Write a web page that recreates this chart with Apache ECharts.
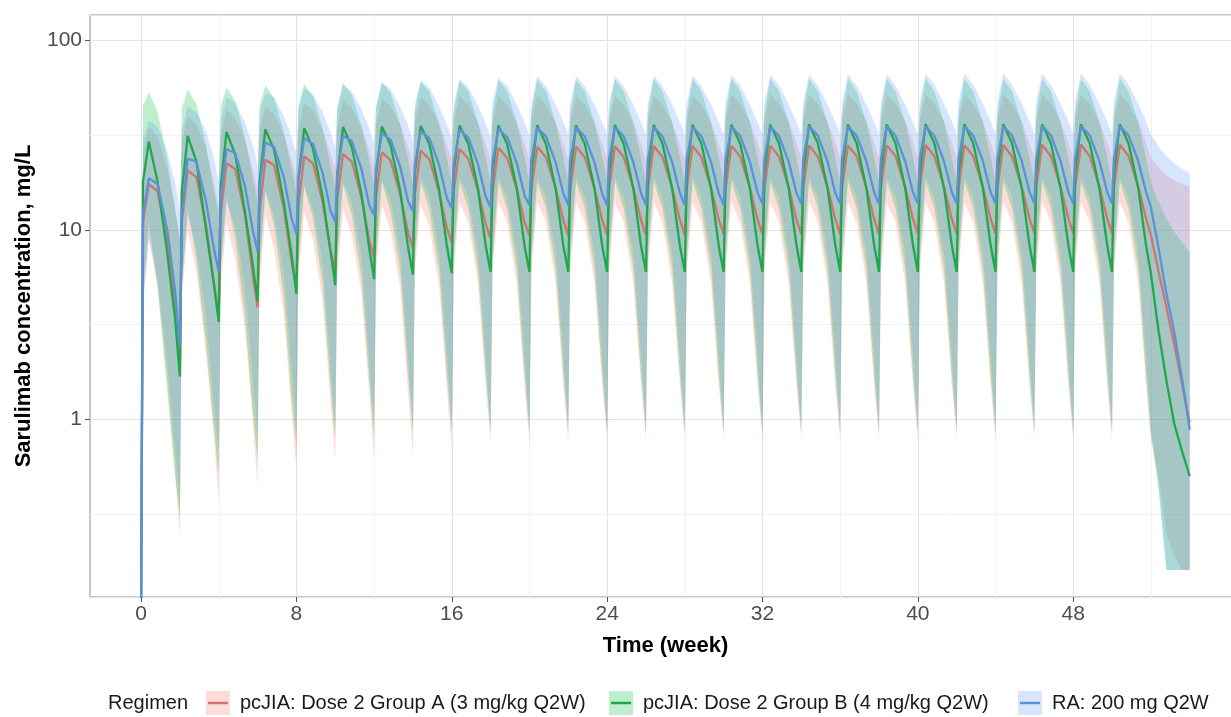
<!DOCTYPE html>
<html><head><meta charset="utf-8">
<script src="https://cdn.jsdelivr.net/npm/echarts@6/dist/echarts.min.js"></script>
<style>html,body{margin:0;padding:0;background:#fff}#chart{width:1231px;height:717px}</style>
</head><body><div id="chart"></div>
<script>
// ---------- DATA ----------
const seriesNames = ['pcJIA: Dose 2 Group A (3 mg/kg Q2W)', 'pcJIA: Dose 2 Group B (4 mg/kg Q2W)', 'RA: 200 mg Q2W'];
const legendTitle = 'Regimen';
const xMajorTicks = [0, 8, 16, 24, 32, 40, 48];
const xMinorTicks = [4, 12, 20, 28, 36, 44, 52];
const yMinorLog10 = [-0.5, 0.5, 1.5];

const weeks = [
0,0.1,0.4,0.85,1.35,1.75,
2,2.1,2.4,2.85,3.35,3.75,
4,4.1,4.4,4.85,5.35,5.75,
6,6.1,6.4,6.85,7.35,7.75,
8,8.1,8.4,8.85,9.35,9.75,
10,10.1,10.4,10.85,11.35,11.75,
12,12.1,12.4,12.85,13.35,13.75,
14,14.1,14.4,14.85,15.35,15.75,
16,16.1,16.4,16.85,17.35,17.75,
18,18.1,18.4,18.85,19.35,19.75,
20,20.1,20.4,20.85,21.35,21.75,
22,22.1,22.4,22.85,23.35,23.75,
24,24.1,24.4,24.85,25.35,25.75,
26,26.1,26.4,26.85,27.35,27.75,
28,28.1,28.4,28.85,29.35,29.75,
30,30.1,30.4,30.85,31.35,31.75,
32,32.1,32.4,32.85,33.35,33.75,
34,34.1,34.4,34.85,35.35,35.75,
36,36.1,36.4,36.85,37.35,37.75,
38,38.1,38.4,38.85,39.35,39.75,
40,40.1,40.4,40.85,41.35,41.75,
42,42.1,42.4,42.85,43.35,43.75,
44,44.1,44.4,44.85,45.35,45.75,
46,46.1,46.4,46.85,47.35,47.75,
48,48.1,48.4,48.85,49.35,49.75,
50,50.1,50.4,50.85,51.35,51.75,
52,52.4,52.8,53.2,53.6,54
];

const redMedian = [
0.1,11,17.5,16,8.5,3.8,
2,11,20.6,19,10.5,5.2,
3.5,12,22.5,21,12,5.8,
3.9,12.5,23.5,22,13,6.8,
5,13.5,24.5,22.5,14,7.8,
6.2,14.5,25.2,23,14.8,8.8,
7.2,15,25.8,23.3,15.3,9.6,
8,15.5,26.3,23.6,15.8,10.2,
8.6,16,26.8,23.8,16.2,10.7,
9,16,27.2,24,16.4,11,
9.3,16.5,27.5,24.2,16.6,11.2,
9.3,16.5,27.6,24.2,16.6,11.2,
9.4,16.5,27.7,24.3,16.7,11.2,
9.4,16.5,27.8,24.3,16.7,11.3,
9.4,16.6,27.8,24.3,16.7,11.3,
9.5,16.6,27.9,24.4,16.8,11.3,
9.5,16.6,27.9,24.4,16.8,11.3,
9.5,16.6,28,24.4,16.8,11.4,
9.5,16.7,28,24.5,16.8,11.4,
9.5,16.7,28,24.5,16.8,11.4,
9.6,16.7,28.1,24.5,16.9,11.4,
9.6,16.7,28.1,24.5,16.9,11.4,
9.6,16.7,28.1,24.5,16.9,11.5,
9.6,16.8,28.2,24.6,16.9,11.5,
9.6,16.8,28.2,24.6,16.9,11.5,
9.6,16.8,28.2,24.6,16.9,11.5,
9.4,6,3.9,2.5,1.55,0.96
];
const redLower = [
0.1,4,9.2,5,1.6,0.55,
0.23,4.5,10,6,2.2,0.8,
0.37,5,11,7,3,1,
0.44,5,12,8,3.6,1.1,
0.55,5.5,12.5,9,4.2,1.25,
0.6,5.5,13,9.5,4.6,1.35,
0.62,6,13.5,10,4.9,1.4,
0.65,6,13.5,10.5,5,1.45,
0.7,6,14,11,5.2,1.5,
0.75,6,14,11,5.2,1.5,
0.75,6,14,11,5.2,1.5,
0.75,6,14,11,5.2,1.5,
0.78,6,14,11,5.2,1.5,
0.78,6,14,11,5.2,1.5,
0.78,6,14,11,5.2,1.5,
0.78,6,14,11,5.2,1.5,
0.78,6,14,11,5.2,1.5,
0.78,6,14,11,5.2,1.5,
0.78,6,14,11,5.2,1.5,
0.78,6,14,11,5.2,1.5,
0.78,6,14,11,5.2,1.5,
0.78,6,14,11,5.2,1.5,
0.78,6,14,11,5.2,1.5,
0.78,6,14,11,5.2,1.5,
0.78,6,14,11,5.2,1.5,
0.78,6,14,11,5.2,1.5,
0.78,0.5,0.25,0.19,0.16,0.16
];
const redUpper = [
0.1,26,35,31,21,13,
9,29,40,36,27,18,
13,31,43,39,30,21,
16.5,33,45,41,32,23.5,
19,34,47,43,34,25.5,
21,35,48.5,44,35,26.5,
22,36,49.5,45,36,27.5,
23,37,50.5,45.5,36.5,28,
23.5,37.5,51,46,37,28.5,
23.5,37.5,51,46,37,28.5,
23.5,37.5,51,46,37,28.5,
23.5,37.5,51,46,37,28.5,
23.5,37.5,51,46,37,28.5,
23.5,37.5,51,46,37,28.5,
23.5,37.5,51,46,37,28.5,
24,38,52,46.5,37.5,29,
24,38,52,46.5,37.5,29,
24,38,52,46.5,37.5,29,
24,38,52,46.5,37.5,29,
24,38,52,46.5,37.5,29,
24,38,52,46.5,37.5,29,
24,38,52,46.5,37.5,29,
24,38,52,46.5,37.5,29,
24,38,52,46.5,37.5,29,
24,38,52,46.5,37.5,29,
24,38,52,46.5,37.5,29,
24,21.5,19.5,18.3,17.5,17
];

const greenMedian = [
0.1,18,29.3,18,7.5,3.4,
1.68,16,31.4,23,10,5.2,
3.27,17,33,25,12.5,6.6,
4.2,18,34,26.5,14,7.4,
4.6,18.5,34.5,27,15,7.8,
5.1,19,35,27.5,15.5,8,
5.5,19.5,35.2,28,16,8.1,
5.8,20,35.5,28.3,16.3,8.2,
5.9,20,35.6,28.5,16.5,8.2,
6,20,35.7,28.5,16.5,8.2,
6,20,35.8,28.5,16.5,8.2,
6,20,35.8,28.5,16.5,8.2,
6,20,35.9,28.6,16.5,8.2,
6,20,35.9,28.6,16.5,8.2,
6,20,36,28.6,16.6,8.2,
6,20,36,28.6,16.6,8.2,
6,20,36,28.7,16.6,8.3,
6,20,36.1,28.7,16.6,8.3,
6,20,36.1,28.7,16.6,8.3,
6,20,36.1,28.7,16.6,8.3,
6,20,36.2,28.7,16.6,8.3,
6,20,36.2,28.7,16.6,8.3,
6,20,36.2,28.7,16.6,8.3,
6,20,36.2,28.7,16.6,8.3,
6,20,36.2,28.7,16.6,8.3,
6,20,36.2,28.7,16.6,8.3,
5.9,2.9,1.6,0.95,0.68,0.5
];
const greenLower = [
0.1,5,11,5,1.4,0.5,
0.3,5,13,7,2.5,0.9,
0.5,6,15,9,3.5,1.1,
0.6,6,16,10.5,4.5,1.3,
0.72,6.5,17,11.5,5.2,1.5,
0.78,7,17.5,12,5.6,1.6,
0.82,7,18,12.5,6,1.7,
0.84,7,18,12.8,6.1,1.7,
0.85,7,18,13,6.2,1.7,
0.85,7,18,13,6.2,1.7,
0.85,7,18,13,6.2,1.7,
0.85,7,18,13,6.2,1.7,
0.85,7,18,13,6.2,1.7,
0.85,7,18,13,6.2,1.7,
0.85,7,18,13,6.2,1.7,
0.85,7,18,13,6.2,1.7,
0.85,7,18,13,6.2,1.7,
0.85,7,18,13,6.2,1.7,
0.85,7,18,13,6.2,1.7,
0.85,7,18,13,6.2,1.7,
0.85,7,18,13,6.2,1.7,
0.85,7,18,13,6.2,1.7,
0.85,7,18,13,6.2,1.7,
0.85,7,18,13,6.2,1.7,
0.85,7,18,13,6.2,1.7,
0.85,7,18,13,6.2,1.7,
0.85,0.42,0.16,0.16,0.16,0.16
];
const greenUpper = [
0.1,45,53.8,42,24,13,
9,44,55,46,28,16,
12,45,56.6,48,31,19,
14,45,58,50,33,21,
15.5,45,59,51,34.5,22,
16.5,44,60,52,35.5,23,
17,44,60.5,53,36,23.5,
17.5,43,61,53.5,36.5,24,
18,42,61.5,54,37,24,
18,42,62,54,37,24,
18,42,62,54,37,24,
18,42,62,54,37,24,
18,42,62.5,54,37,24,
18,42,62.5,54,37,24,
18,42,62.5,54,37,24,
18,42,63,54,37,24,
18,42,63,54,37,24,
18,42,63,54,37,24,
18,42,63,54,37,24,
18,42,63,54,37,24,
18,42,63,54,37,24,
18,42,63,54,37,24,
18,42,63,54,37,24,
18,42,63,54,37,24,
18,42,63,54,37,24,
18,42,63,54,37,24,
18,14,11.5,9.8,8.6,7.6
];

const blueMedian = [
0.1,12,18.8,17.5,10,4.8,
2.4,12,23.8,23,14,8,
6,15,26.8,25.5,17,10,
7.7,17,29,27.5,19,11.5,
9.5,18.5,30.5,28.5,20,12.7,
11,20,31.5,29.5,21,13.5,
12,21,32.5,30,21.5,14.2,
12.6,22,33.3,30.5,22,14.7,
13,22.5,33.8,30.8,22.2,15,
13.2,23,34.2,31,22.5,15.2,
13.5,23.5,34.8,31.2,22.7,15.5,
13.5,23.5,34.9,31.2,22.7,15.5,
13.5,23.5,35,31.3,22.8,15.6,
13.6,23.5,35,31.3,22.8,15.6,
13.6,23.6,35.1,31.4,22.9,15.6,
13.6,23.6,35.1,31.4,22.9,15.7,
13.7,23.6,35.2,31.4,22.9,15.7,
13.7,23.6,35.2,31.5,23,15.7,
13.7,23.7,35.2,31.5,23,15.8,
13.7,23.7,35.3,31.5,23,15.8,
13.8,23.7,35.3,31.5,23,15.8,
13.8,23.7,35.3,31.6,23.1,15.8,
13.8,23.8,35.3,31.6,23.1,15.9,
13.8,23.8,35.4,31.6,23.1,15.9,
13.8,23.8,35.4,31.6,23.1,15.9,
13.8,23.8,35.4,31.6,23.1,15.9,
13.2,8,4.6,2.9,1.65,0.88
];
const blueLower = [
0.1,4,9,5.5,2,0.7,
0.35,5.5,12,8,3.5,1.2,
0.7,6.5,14,10.5,5,1.7,
0.8,7,16,12,6,1.9,
0.85,7.5,17,13,6.7,2,
0.88,7.5,18,14,7.2,2.1,
0.9,8,18.5,14.5,7.5,2.2,
0.9,8,19,15,7.6,2.2,
0.9,8,19,15,7.6,2.2,
0.9,8,19,15,7.6,2.2,
0.9,8,19,15,7.6,2.2,
0.9,8,19,15,7.6,2.2,
0.9,8,19,15,7.6,2.2,
0.9,8,19,15,7.6,2.2,
0.9,8,19,15,7.6,2.2,
0.9,8,19,15,7.6,2.2,
0.9,8,19,15,7.6,2.2,
0.9,8,19,15,7.6,2.2,
0.9,8,19,15,7.6,2.2,
0.9,8,19,15,7.6,2.2,
0.9,8,19,15,7.6,2.2,
0.9,8,19,15,7.6,2.2,
0.9,8,19,15,7.6,2.2,
0.9,8,19,15,7.6,2.2,
0.9,8,19,15,7.6,2.2,
0.9,8,19,15,7.6,2.2,
0.9,0.45,0.16,0.16,0.16,0.16
];
const blueUpper = [
0.1,30,38,35,26,18,
13,34,45,42,33,24,
18,38,50,47,37,28,
22,41,53,50,40,31,
25,43,56,52,42,33,
27,44,58,54,43.5,34.5,
28.5,45,60,55.5,44.5,35.5,
29.5,46,61.5,56.5,45,36,
30.5,46.5,63,57,45.5,36.5,
31,47,64,57.5,46,37,
31.5,47,65,57.5,46,37,
32,47,65,57.5,46,37,
32,47,65,57.5,46,37,
32,47,65.5,57.5,46,37,
32,47,65.5,57.5,46,37,
32,47.5,66,58,46,37,
32,47.5,66,58,46,37,
32,47.5,66,58,46,37,
32,47.5,66.5,58,46,37,
32,47.5,66.5,58,46,37,
32,48,67,58.5,46.5,37.5,
32,48,67,58.5,46.5,37.5,
32,48,67,58.5,46.5,37.5,
32,48,67,58.5,46.5,37.5,
32,48,67,58.5,46.5,37.5,
32,48,67,58.5,46.5,37.5,
32,27.5,24.5,22.5,21,20
];

// ---------- CHART ----------
[redMedian, redLower, redUpper, greenMedian, greenLower, greenUpper, blueMedian, blueLower, blueUpper].forEach((a, i) => {
  if (a.length !== weeks.length) throw new Error('array ' + i + ' length ' + a.length + ' != ' + weeks.length);
});

const FONT = "'Liberation Sans', Arial, Helvetica, sans-serif";
const groups = [
  { name: seriesNames[0], med: redMedian,   lo: redLower,   up: redUpper,   fill: 'rgba(248,118,109,0.25)', line: '#cf756c' },
  { name: seriesNames[1], med: greenMedian, lo: greenLower, up: greenUpper, fill: 'rgba(0,186,56,0.25)',   line: '#21a74b' },
  { name: seriesNames[2], med: blueMedian,  lo: blueLower,  up: blueUpper,  fill: 'rgba(97,156,255,0.25)', line: '#5b91dc' }
];
const pairs = arr => weeks.map((w, i) => [w, arr[i]]);

const series = [];
// ribbons: one polygon per group, points placed through the axes (api.coord)
groups.forEach(g => {
  series.push({
    type: 'custom', name: g.name + ' interval', silent: true, z: 2,
    data: weeks.map((w, i) => [w, g.lo[i], g.up[i]]),
    encode: { x: 0, y: [1, 2] },
    renderItem: function (params, api) {
      if (params.dataIndex !== 0) return null;
      const top = [], bottom = [];
      for (let i = 0; i < weeks.length; i++) {
        top.push(api.coord([weeks[i], g.up[i]]));
        bottom.push(api.coord([weeks[i], g.lo[i]]));
      }
      const cs = params.coordSys;
      return {
        type: 'group',
        clipPath: { type: 'rect', shape: { x: cs.x, y: cs.y, width: cs.width, height: cs.height } },
        children: [{ type: 'polygon', shape: { points: top.concat(bottom.reverse()) }, style: { fill: g.fill } }]
      };
    }
  });
});
groups.forEach(g => {
  series.push({ type: 'line', name: g.name, data: pairs(g.med), symbol: 'none', silent: true,
    lineStyle: { color: g.line, width: 2.3 }, z: 3, emphasis: { disabled: true } });
});

// legend drawn as text + keys
const legendY = 703;
const keyX = [206, 609, 1018];
const textX = [240, 643, 1052];
const graphic = [{ type: 'text', x: 108, y: legendY, style: { text: legendTitle, font: '20px ' + FONT, fill: '#1a1a1a', verticalAlign: 'middle' } }];
groups.forEach((g, i) => {
  graphic.push({ type: 'rect', shape: { x: keyX[i], y: legendY - 12, width: 24, height: 24 }, style: { fill: g.fill } });
  graphic.push({ type: 'line', shape: { x1: keyX[i] + 2, y1: legendY, x2: keyX[i] + 22, y2: legendY }, style: { stroke: g.line, lineWidth: 2.5 } });
  graphic.push({ type: 'text', x: textX[i], y: legendY, style: { text: g.name, font: '20px ' + FONT, fill: '#1a1a1a', verticalAlign: 'middle' } });
});

const chart = echarts.init(document.getElementById('chart'), null, { renderer: 'canvas' });
chart.setOption({
  animation: false,
  backgroundColor: '#ffffff',
  grid: { left: 90, right: -10, top: 15, bottom: 120, show: true, borderColor: '#8c8c8c', borderWidth: 1,
          containLabel: false, outerBoundsMode: 'none' },
  xAxis: [
    { type: 'value', min: -2.63, max: 56.64, position: 'bottom',
      axisLine: { show: false, onZero: false },
      axisTick: { show: true, length: 5, lineStyle: { color: '#555', width: 1 }, customValues: xMajorTicks },
      axisLabel: { customValues: xMajorTicks, fontSize: 21, color: '#4d4d4d', fontFamily: FONT, margin: 7 },
      splitLine: { show: true, lineStyle: { color: '#e4e4e4', width: 1.2 } },
      name: 'Time (week)', nameLocation: 'middle', nameGap: 38,
      nameTextStyle: { fontSize: 22, fontWeight: 'bold', color: '#000', fontFamily: FONT } },
    { type: 'value', min: -2.63, max: 56.64, position: 'top',
      axisLine: { show: false, onZero: false },
      axisTick: { show: false, customValues: xMinorTicks },
      axisLabel: { show: false, customValues: xMinorTicks },
      splitLine: { show: true, lineStyle: { color: '#f1f1f1', width: 1 } } }
  ],
  yAxis: [
    { type: 'log', logBase: 10, min: 0.1151, max: 136.7,
      axisLine: { show: false, onZero: false },
      axisTick: { length: 5, lineStyle: { color: '#555', width: 1 } },
      axisLabel: { fontSize: 21, color: '#4d4d4d', fontFamily: FONT, margin: 8, showMinLabel: false, showMaxLabel: false },
      splitLine: { show: true, lineStyle: { color: '#e4e4e4', width: 1.2 } },
      name: 'Sarulimab concentration, mg/L', nameLocation: 'middle', nameGap: 55,
      nameTextStyle: { fontSize: 22, fontWeight: 'bold', color: '#000', fontFamily: FONT } },
    { type: 'value', min: -0.9387, max: 2.1358, position: 'right',
      axisLine: { show: false, onZero: false },
      axisTick: { show: false, customValues: yMinorLog10 },
      axisLabel: { show: false, customValues: yMinorLog10 },
      splitLine: { show: true, lineStyle: { color: '#f1f1f1', width: 1 } } }
  ],
  graphic: graphic,
  series: series
});
</script>
</body></html>
